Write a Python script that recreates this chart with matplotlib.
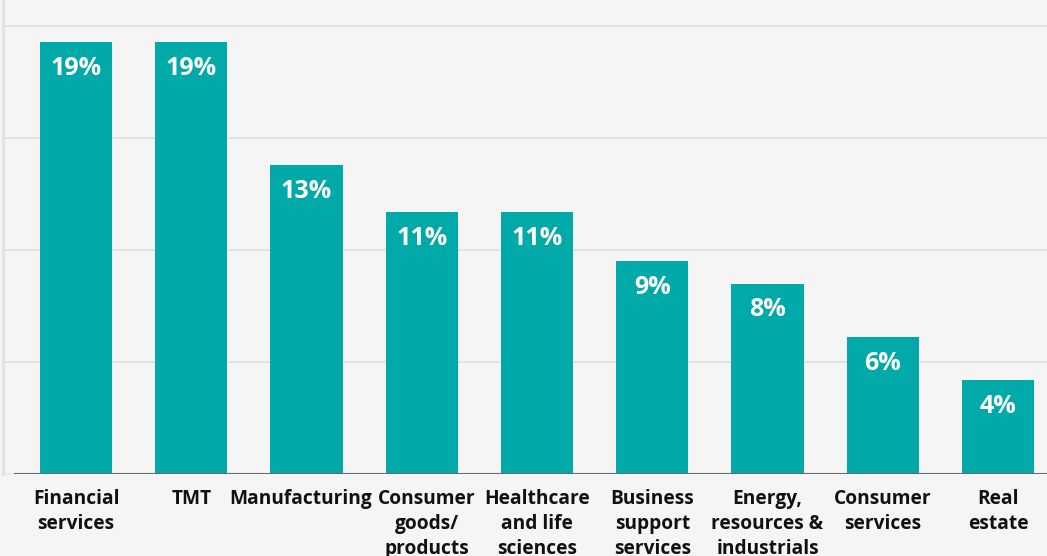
import matplotlib
matplotlib.use("Agg")
import matplotlib.pyplot as plt
from matplotlib.transforms import ScaledTranslation

categories = ["Financial\nservices", "TMT", "Manufacturing", "Consumer\ngoods/\nproducts",
              "Healthcare\nand life\nsciences", "Business\nsupport\nservices",
              "Energy,\nresources &\nindustrials", "Consumer\nservices", "Real\nestate"]
values = [19.3, 19.3, 13.8, 11.7, 11.7, 9.5, 8.5, 6.1, 4.2]
labels = ["19%", "19%", "13%", "11%", "11%", "9%", "8%", "6%", "4%"]
grid_ticks = [0, 5, 10, 15, 20]

W, H = 1047, 556
bg = "#f5f5f5"
teal = "#02a9a9"

fig = plt.figure(figsize=(W / 100, H / 100), dpi=100, facecolor=bg)
ax = fig.add_axes([3 / W, (H - 474) / H, 1 - 3 / W, 474 / H])
ax.set_facecolor(bg)

x = list(range(len(categories)))
bars = ax.bar(x, values, width=0.625, color=teal, zorder=3)

ax.set_xlim((3 - 76) / 115.25, (1047 - 76) / 115.25)
ax.set_ylim(0, 474 / 22.4)

ax.set_yticks(grid_ticks)
ax.set_yticklabels([])
ax.tick_params(axis="y", length=0)
ax.grid(axis="y", color="#e2e2e2", linewidth=1.5, zorder=0)

for s in ["top", "right", "bottom"]:
    ax.spines[s].set_visible(False)
ax.spines["left"].set_color("#e2e2e2")
ax.spines["left"].set_linewidth(2)

ax.axhline(0, xmin=12 / 1044, xmax=1, color="#666a6e", linewidth=1.5, zorder=4)

ax.set_xticks(x)
ax.set_xticklabels(categories, fontfamily="Open Sans", fontweight="bold",
                   fontsize=13.8, color="#111111", linespacing=1.32)
ax.tick_params(axis="x", length=0, pad=11)

# small horizontal nudges to avoid label collisions (as in the reference)
nudges = {2: -6, 3: 5}
for i, t in enumerate(ax.get_xticklabels()):
    if i in nudges:
        t.set_transform(t.get_transform() +
                        ScaledTranslation(nudges[i] / 100, 0, fig.dpi_scale_trans))

for b, lab in zip(bars, labels):
    ax.annotate(lab, (b.get_x() + b.get_width() / 2, b.get_height()),
                xytext=(0, -19), textcoords="offset points",
                ha="center", va="center", color="white",
                fontfamily="Open Sans", fontweight="bold", fontsize=18)

fig.savefig("out.png", dpi=100, facecolor=bg)
